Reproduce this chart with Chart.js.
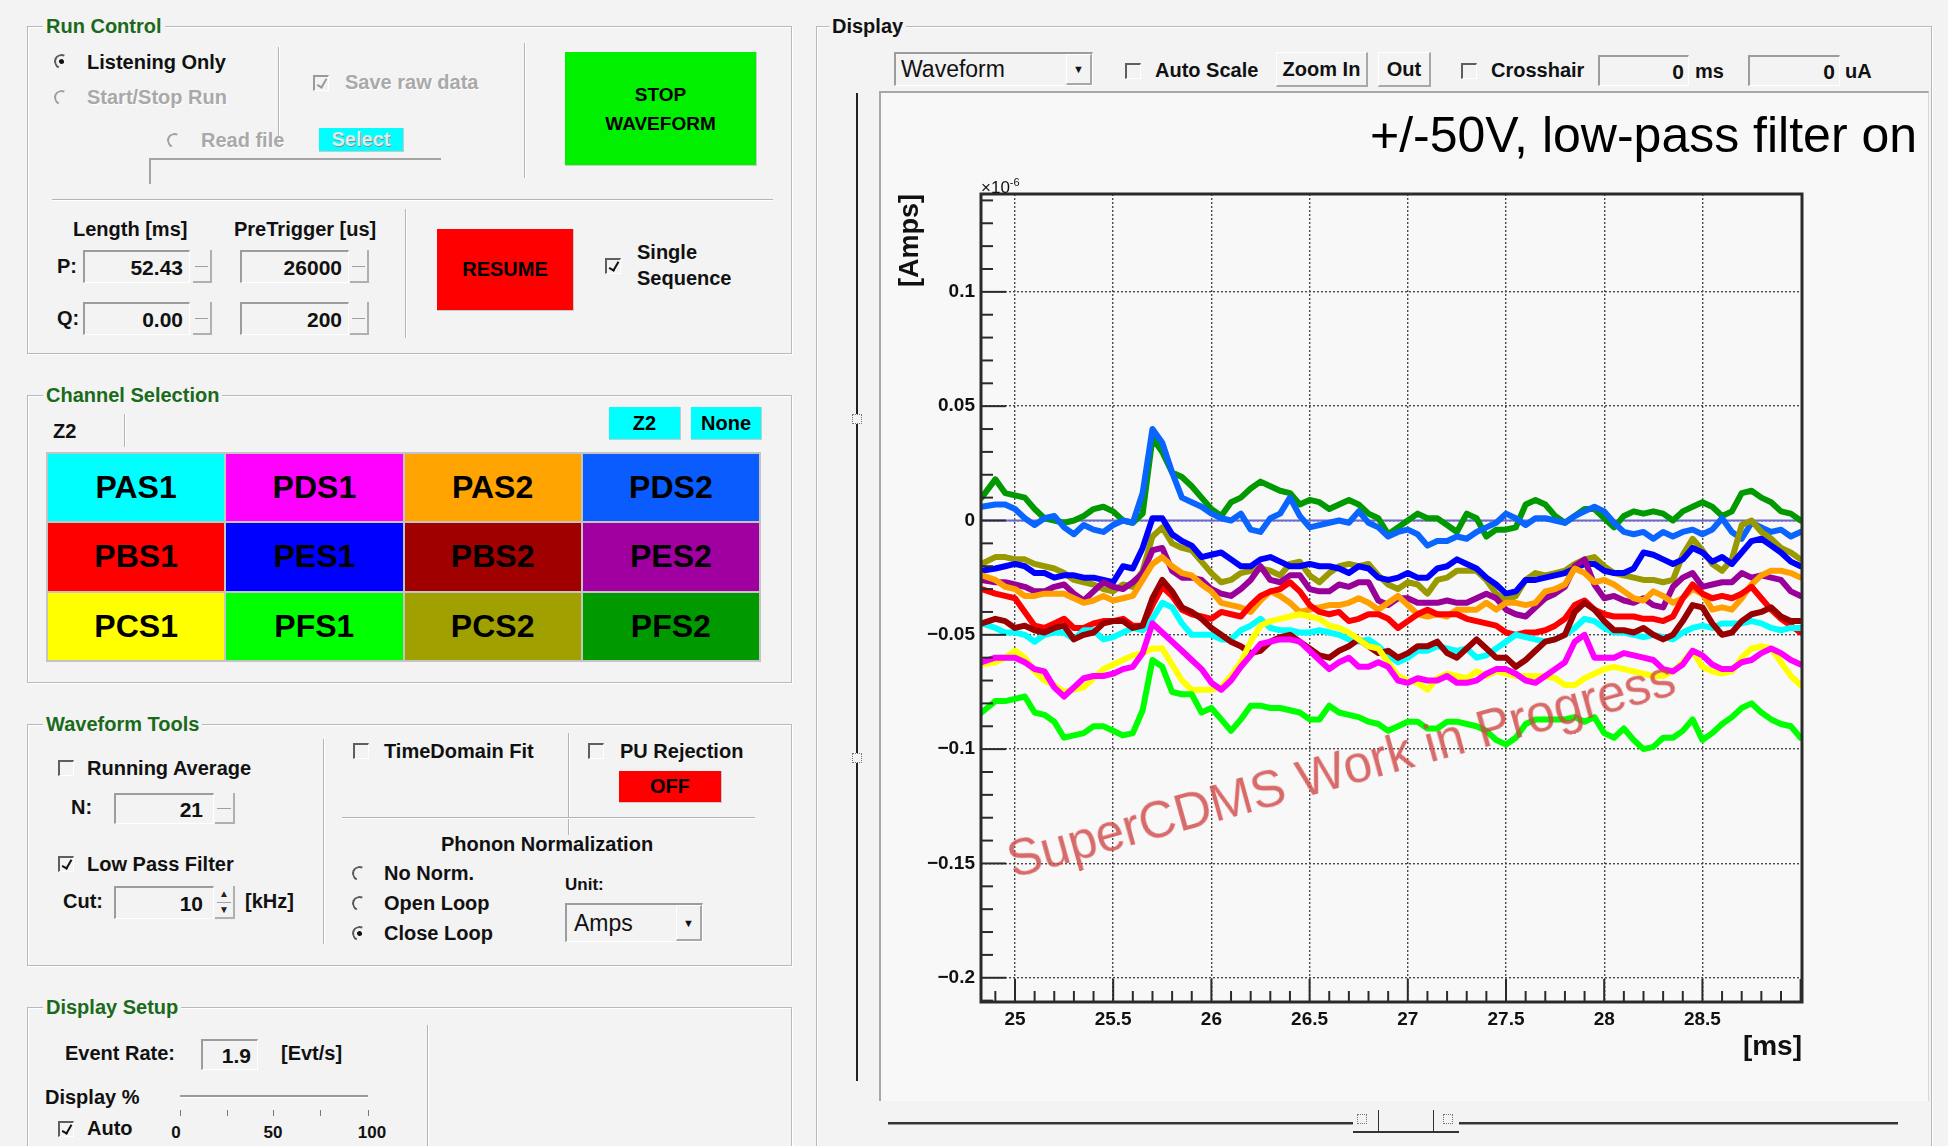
<!DOCTYPE html>
<html>
<head>
<meta charset="utf-8">
<script src="https://cdn.jsdelivr.net/npm/chart.js@4.4.1/dist/chart.umd.min.js"></script>
<style>
  html, body { margin:0; padding:0; }
  body { width:1948px; height:1146px; background:#f3f3f3; position:relative; overflow:hidden;
         font-family:"Liberation Sans", Arial, sans-serif; }
  .a { position:absolute; }
  .t { position:absolute; white-space:nowrap; font-weight:bold; font-size:20px; line-height:20px; color:#111; }
  .gray { color:#a9a9a9; text-shadow:1px 1px 0 #fff; }
  .grp { position:absolute; border:1px solid #b9b9b9; box-shadow: inset 1px 1px 0 #fff, 1px 1px 0 #fff; }
  .gt { position:absolute; white-space:nowrap; font-weight:bold; font-size:20px; line-height:20px;
        color:#1b6a1b; background:#f3f3f3; padding:0 3px; }
  .vs { position:absolute; width:1px; background:#b4b4b4; box-shadow:1px 0 0 #fff; }
  .hs { position:absolute; height:1px; background:#b4b4b4; box-shadow:0 1px 0 #fff; }
  .cb { position:absolute; width:13px; height:13px; border-top:2px solid #5e5e5e; border-left:2px solid #5e5e5e;
        border-right:1px solid #fff; border-bottom:1px solid #fff; }
  .cb.on::after { content:''; position:absolute; left:4px; top:0px; width:4px; height:9px;
        border:solid #111; border-width:0 2px 2px 0; transform:rotate(30deg); }
  .cb.dis { border-color:#9a9a9a #fff #fff #9a9a9a; }
  .cb.dis::after { border-color:#9a9a9a; }
  .rd { position:absolute; width:11px; height:11px; border-radius:50%; border:2px solid;
        border-color:#5a5a5a transparent transparent #5a5a5a; transform:rotate(-20deg); }
  .rd.dis { border-color:#a0a0a0 transparent transparent #a0a0a0; }
  .rd.on::after { content:''; position:absolute; left:3px; top:3px; width:5px; height:5px; border-radius:50%; background:#111; }
  .en { position:absolute; box-sizing:border-box; border-top:2px solid #9c9c9c; border-left:2px solid #9c9c9c;
        border-right:1px solid #fff; border-bottom:1px solid #fff; text-align:right; font-weight:bold;
        font-size:21px; color:#111; }
  .sp { position:absolute; box-sizing:border-box; border-right:2px solid #b0b0b0; border-bottom:2px solid #b0b0b0; }
  .sp::after { content:''; position:absolute; left:2px; right:2px; top:50%; height:1px; background:#a0a0a0; }
  .btn { position:absolute; box-sizing:border-box; display:flex; align-items:center; justify-content:center;
         font-weight:bold; color:#000; border-right:1px solid #c9c9c9; border-bottom:1px solid #c9c9c9; }
  .raised { position:absolute; box-sizing:border-box; border-top:1px solid #fff; border-left:1px solid #fff;
         border-right:2px solid #a8a8a8; border-bottom:2px solid #a8a8a8; display:flex; align-items:center;
         justify-content:center; font-weight:bold; font-size:20px; color:#111; }
  .grid { position:absolute; display:grid; grid-template-columns:repeat(4,1fr); grid-template-rows:repeat(3,1fr);
          gap:2px; background:#c4c4c4; padding:2px; box-sizing:border-box; }
  .grid div { display:flex; align-items:center; justify-content:center; font-weight:bold; font-size:32px; color:#000; }
  .handle { position:absolute; width:8px; height:8px; border:1px dotted #777; }
</style>
</head>
<body>

<!-- Run Control -->
<div class="grp" style="left:27px;top:26px;width:763px;height:326px"></div>
<div class="gt" style="left:43px;top:16px">Run Control</div>
<div class="rd on" style="left:54px;top:54px"></div>
<div class="t" style="left:87px;top:52px">Listening Only</div>
<div class="rd dis" style="left:54px;top:90px"></div>
<div class="t gray" style="left:87px;top:87px">Start/Stop Run</div>
<div class="vs" style="left:278px;top:47px;height:100px"></div>
<div class="cb on dis" style="left:313px;top:75px"></div>
<div class="t gray" style="left:345px;top:72px">Save raw data</div>
<div class="vs" style="left:524px;top:43px;height:135px"></div>
<div class="btn" style="left:565px;top:52px;width:192px;height:114px;background:#00f000;font-size:19px;line-height:29px;flex-direction:column">
  <span>STOP</span><span>WAVEFORM</span></div>
<div class="rd dis" style="left:167px;top:133px"></div>
<div class="t gray" style="left:201px;top:130px">Read file</div>
<div class="btn" style="left:319px;top:128px;width:85px;height:24px;background:#00ffff;font-size:20px;color:#d8eeee;text-shadow:1px 1px 0 #7f9090">Select</div>
<div class="a" style="left:149px;top:158px;width:292px;height:2px;background:#a4a4a4"></div>
<div class="a" style="left:149px;top:158px;width:2px;height:26px;background:#a4a4a4"></div>
<div class="hs" style="left:52px;top:199px;width:721px"></div>
<div class="t" style="left:73px;top:219px">Length [ms]</div>
<div class="t" style="left:234px;top:219px">PreTrigger [us]</div>
<div class="t" style="left:57px;top:256px">P:</div>
<div class="en" style="left:83px;top:250px;width:107px;height:33px;line-height:31px;padding-right:6px">52.43</div>
<div class="sp" style="left:193px;top:250px;width:19px;height:33px"></div>
<div class="en" style="left:240px;top:250px;width:109px;height:33px;line-height:31px;padding-right:6px">26000</div>
<div class="sp" style="left:350px;top:250px;width:19px;height:33px"></div>
<div class="t" style="left:57px;top:308px">Q:</div>
<div class="en" style="left:83px;top:302px;width:107px;height:33px;line-height:31px;padding-right:6px">0.00</div>
<div class="sp" style="left:193px;top:302px;width:19px;height:33px"></div>
<div class="en" style="left:240px;top:302px;width:109px;height:33px;line-height:31px;padding-right:6px">200</div>
<div class="sp" style="left:350px;top:302px;width:19px;height:33px"></div>
<div class="vs" style="left:405px;top:209px;height:129px"></div>
<div class="btn" style="left:437px;top:229px;width:137px;height:82px;background:#ff0000;font-size:20px">RESUME</div>
<div class="cb on" style="left:605px;top:258px"></div>
<div class="t" style="left:637px;top:242px">Single</div>
<div class="t" style="left:637px;top:268px">Sequence</div>

<!-- Channel Selection -->
<div class="grp" style="left:27px;top:395px;width:763px;height:286px"></div>
<div class="gt" style="left:43px;top:385px">Channel Selection</div>
<div class="t" style="left:53px;top:421px">Z2</div>
<div class="vs" style="left:124px;top:414px;height:33px"></div>
<div class="btn" style="left:609px;top:407px;width:72px;height:33px;background:#00ffff;font-size:20px">Z2</div>
<div class="btn" style="left:691px;top:407px;width:71px;height:33px;background:#00ffff;font-size:20px">None</div>
<div class="grid" style="left:46px;top:452px;width:715px;height:210px">
  <div style="background:#00ffff">PAS1</div><div style="background:#ff00ff">PDS1</div>
  <div style="background:#ffa400">PAS2</div><div style="background:#0a5cff">PDS2</div>
  <div style="background:#ff0000">PBS1</div><div style="background:#0000ff">PES1</div>
  <div style="background:#a00000">PBS2</div><div style="background:#a000a0">PES2</div>
  <div style="background:#ffff00">PCS1</div><div style="background:#00ff00">PFS1</div>
  <div style="background:#a0a000">PCS2</div><div style="background:#009a00">PFS2</div>
</div>

<!-- Waveform Tools -->
<div class="grp" style="left:27px;top:724px;width:763px;height:240px"></div>
<div class="gt" style="left:43px;top:714px">Waveform Tools</div>
<div class="cb" style="left:58px;top:760px"></div>
<div class="t" style="left:87px;top:758px">Running Average</div>
<div class="t" style="left:71px;top:797px">N:</div>
<div class="en" style="left:114px;top:793px;width:100px;height:31px;line-height:29px;padding-right:10px">21</div>
<div class="sp" style="left:215px;top:793px;width:20px;height:31px"></div>
<div class="cb on" style="left:58px;top:856px"></div>
<div class="t" style="left:87px;top:854px">Low Pass Filter</div>
<div class="t" style="left:63px;top:891px">Cut:</div>
<div class="en" style="left:114px;top:886px;width:100px;height:33px;line-height:31px;padding-right:10px">10</div>
<div class="sp" style="left:215px;top:886px;width:20px;height:33px"></div>
<div class="a" style="left:219px;top:889px;font-size:10px;line-height:10px;color:#222">&#9650;</div>
<div class="a" style="left:219px;top:905px;font-size:10px;line-height:10px;color:#222">&#9660;</div>
<div class="t" style="left:245px;top:891px">[kHz]</div>
<div class="vs" style="left:323px;top:739px;height:205px"></div>
<div class="cb" style="left:353px;top:743px"></div>
<div class="t" style="left:384px;top:741px">TimeDomain Fit</div>
<div class="vs" style="left:568px;top:733px;height:102px"></div>
<div class="cb" style="left:588px;top:743px"></div>
<div class="t" style="left:620px;top:741px">PU Rejection</div>
<div class="btn" style="left:619px;top:771px;width:103px;height:32px;background:#ff0000;font-size:20px">OFF</div>
<div class="hs" style="left:342px;top:817px;width:413px"></div>
<div class="t" style="left:437px;top:834px;width:220px;text-align:center">Phonon Normalization</div>
<div class="rd" style="left:352px;top:866px"></div>
<div class="t" style="left:384px;top:863px">No Norm.</div>
<div class="rd" style="left:352px;top:896px"></div>
<div class="t" style="left:384px;top:893px">Open Loop</div>
<div class="rd on" style="left:352px;top:926px"></div>
<div class="t" style="left:384px;top:923px">Close Loop</div>
<div class="t" style="left:565px;top:875px;font-size:17px">Unit:</div>
<div class="en" style="left:565px;top:903px;width:138px;height:39px"></div>
<div class="t" style="left:574px;top:912px;font-size:23px;line-height:23px;font-weight:normal">Amps</div>
<div class="raised" style="left:676px;top:905px;width:26px;height:36px;font-size:11px">&#9660;</div>

<!-- Display Setup -->
<div class="grp" style="left:27px;top:1007px;width:763px;height:200px"></div>
<div class="gt" style="left:43px;top:997px">Display Setup</div>
<div class="t" style="left:65px;top:1043px">Event Rate:</div>
<div class="en" style="left:201px;top:1039px;width:57px;height:31px;line-height:29px;padding-right:6px">1.9</div>
<div class="t" style="left:281px;top:1043px">[Evt/s]</div>
<div class="vs" style="left:427px;top:1025px;height:130px"></div>
<div class="t" style="left:45px;top:1087px">Display %</div>
<div class="a" style="left:180px;top:1095px;width:188px;height:2px;background:#9a9a9a;border-bottom:1px solid #fff"></div>
<div class="cb on" style="left:58px;top:1121px"></div>
<div class="t" style="left:87px;top:1118px">Auto</div>
<div class="a" style="left:180px;top:1110px;width:1px;height:6px;background:#777"></div>
<div class="a" style="left:227px;top:1110px;width:1px;height:6px;background:#777"></div>
<div class="a" style="left:273px;top:1110px;width:1px;height:6px;background:#777"></div>
<div class="a" style="left:320px;top:1110px;width:1px;height:6px;background:#777"></div>
<div class="a" style="left:368px;top:1110px;width:1px;height:6px;background:#777"></div>
<div class="t" style="left:156px;top:1123px;width:40px;text-align:center;font-size:17px">0</div>
<div class="t" style="left:253px;top:1123px;width:40px;text-align:center;font-size:17px">50</div>
<div class="t" style="left:352px;top:1123px;width:40px;text-align:center;font-size:17px">100</div>

<!-- Display -->
<div class="grp" style="left:816px;top:26px;width:1114px;height:1200px"></div>
<div class="gt" style="left:829px;top:16px;color:#111">Display</div>
<div class="en" style="left:894px;top:52px;width:199px;height:34px"></div>
<div class="t" style="left:901px;top:58px;font-size:23px;line-height:23px;font-weight:normal">Waveform</div>
<div class="raised" style="left:1066px;top:54px;width:26px;height:31px;font-size:11px">&#9660;</div>
<div class="cb" style="left:1125px;top:63px"></div>
<div class="t" style="left:1155px;top:60px">Auto Scale</div>
<div class="raised" style="left:1276px;top:52px;width:92px;height:35px">Zoom In</div>
<div class="raised" style="left:1378px;top:52px;width:53px;height:35px">Out</div>
<div class="cb" style="left:1461px;top:63px"></div>
<div class="t" style="left:1491px;top:60px">Crosshair</div>
<div class="en" style="left:1598px;top:55px;width:91px;height:31px;line-height:29px;padding-right:4px">0</div>
<div class="t" style="left:1695px;top:61px">ms</div>
<div class="en" style="left:1748px;top:55px;width:92px;height:31px;line-height:29px;padding-right:4px">0</div>
<div class="t" style="left:1845px;top:61px">uA</div>

<div class="a" style="left:879px;top:91px;width:1050px;height:1010px;box-sizing:border-box;border-top:2px solid #a8a8a8;border-left:2px solid #a8a8a8;border-right:1px solid #d8d8d8;background:#f8f8f8"></div>
<canvas id="wave" class="a" style="left:881px;top:93px" width="1048" height="1007"></canvas>

<!-- overlay text on the plot pad -->
<div class="a" style="left:1370px;top:110px;font-size:50px;line-height:50px;color:#000;white-space:nowrap">+/-50V, low-pass filter on</div>
<div class="a" style="left:981px;top:174px;font-size:17px;line-height:17px;color:#111;white-space:nowrap">&#215;10<sup style="font-size:11px">-6</sup></div>
<div class="a" style="left:1341px;top:769px;transform:translate(-50%,-50%) rotate(-15.5deg);font-size:51px;line-height:51px;color:rgba(208,70,70,0.8);white-space:nowrap;pointer-events:none">SuperCDMS Work in Progress</div>

<!-- pad sliders -->
<div class="a" style="left:856px;top:93px;width:2px;height:988px;background:#222"></div>
<div class="handle" style="left:852px;top:414px;background:#f3f3f3"></div>
<div class="handle" style="left:852px;top:753px;background:#f3f3f3"></div>
<div class="a" style="left:888px;top:1122px;width:1010px;height:2px;background:#333;border-bottom:1px solid #999"></div>
<div class="a" style="left:1353px;top:1110px;width:106px;height:21px;background:#f3f3f3;border-bottom:2px solid #333"></div>
<div class="a" style="left:1378px;top:1110px;width:1px;height:21px;background:#333"></div>
<div class="a" style="left:1433px;top:1110px;width:1px;height:21px;background:#333"></div>
<div class="handle" style="left:1357px;top:1114px"></div>
<div class="handle" style="left:1443px;top:1114px"></div>

<script>
// Sample times [ms]
const timeMs = [
  24.83, 24.90, 24.95, 25.00, 25.05, 25.10, 25.15, 25.20, 25.25, 25.30, 25.35, 25.40, 25.45, 25.50, 25.55, 25.60, 25.65, 25.70, 25.75, 25.80, 25.85, 25.90, 25.95, 26.00, 26.05, 26.10, 26.15, 26.20,
  26.25, 26.30, 26.35, 26.40, 26.45, 26.50, 26.55, 26.60, 26.65, 26.70, 26.75, 26.80, 26.85, 26.90, 26.95, 27.00, 27.05, 27.10, 27.15, 27.20, 27.25, 27.30, 27.35, 27.40, 27.45, 27.50, 27.55, 27.60,
  27.65, 27.70, 27.75, 27.80, 27.85, 27.90, 27.95, 28.00, 28.05, 28.10, 28.15, 28.20, 28.25, 28.30, 28.35, 28.40, 28.45, 28.50, 28.55, 28.60, 28.65, 28.70, 28.75, 28.80, 28.85, 28.90, 28.95, 29.00
];

// Channel currents (x1e-6 A)
const PFS2 = [
  0.010, 0.018, 0.012, 0.011, 0.010, 0.005, 0.001, 0.000, -0.001, 0.000, 0.002, 0.005, 0.006, 0.004, 0.000, -0.001, 0.003, 0.036, 0.030, 0.021, 0.019, 0.015, 0.010, 0.005, 0.002, 0.008, 0.010, 0.014,
  0.017, 0.015, 0.013, 0.012, 0.007, 0.009, 0.008, 0.005, 0.007, 0.009, 0.007, 0.003, 0.001, -0.006, -0.003, 0.000, 0.003, 0.001, 0.001, -0.002, -0.005, 0.003, 0.001, -0.007, -0.004, -0.004, -0.003, 0.007,
  0.009, 0.007, 0.002, -0.001, 0.002, 0.005, 0.005, 0.001, -0.003, 0.002, 0.004, 0.003, 0.004, 0.003, 0.000, 0.004, 0.006, 0.008, 0.006, 0.002, 0.004, 0.012, 0.013, 0.010, 0.008, 0.004, 0.003, 0.000
];
const PDS2 = [
  0.006, 0.007, 0.007, 0.005, 0.001, -0.002, 0.001, 0.002, -0.003, -0.006, -0.002, -0.004, -0.005, -0.002, 0.000, -0.001, 0.012, 0.040, 0.034, 0.021, 0.010, 0.008, 0.006, 0.003, 0.001, 0.000, 0.003, -0.004,
  -0.005, 0.001, 0.003, 0.010, 0.002, -0.003, -0.002, -0.001, 0.000, -0.001, 0.004, -0.001, -0.003, -0.007, -0.005, -0.004, -0.006, -0.011, -0.009, -0.009, -0.007, -0.008, -0.005, -0.003, -0.001, 0.003, 0.001, -0.002,
  0.001, 0.001, 0.000, -0.001, 0.002, 0.004, 0.006, 0.004, -0.001, -0.005, -0.006, -0.005, -0.008, -0.005, -0.007, -0.005, -0.004, -0.006, -0.004, 0.001, -0.005, -0.008, -0.001, -0.003, -0.005, -0.004, -0.007, -0.005
];
const PES1 = [
  -0.022, -0.021, -0.020, -0.019, -0.020, -0.023, -0.023, -0.025, -0.024, -0.024, -0.025, -0.025, -0.026, -0.027, -0.020, -0.021, -0.012, 0.001, 0.001, -0.006, -0.009, -0.011, -0.016, -0.015, -0.014, -0.017, -0.020, -0.020,
  -0.017, -0.016, -0.018, -0.020, -0.020, -0.019, -0.020, -0.020, -0.021, -0.023, -0.020, -0.021, -0.025, -0.026, -0.025, -0.023, -0.025, -0.025, -0.021, -0.020, -0.017, -0.019, -0.021, -0.025, -0.028, -0.032, -0.031, -0.026,
  -0.026, -0.025, -0.024, -0.023, -0.021, -0.019, -0.019, -0.022, -0.023, -0.023, -0.021, -0.014, -0.015, -0.017, -0.019, -0.017, -0.012, -0.014, -0.018, -0.016, -0.019, -0.014, -0.009, -0.008, -0.011, -0.014, -0.018, -0.020
];
const PCS2 = [
  -0.019, -0.016, -0.016, -0.017, -0.017, -0.019, -0.020, -0.021, -0.023, -0.026, -0.027, -0.028, -0.030, -0.031, -0.028, -0.029, -0.022, -0.007, -0.003, -0.010, -0.012, -0.013, -0.018, -0.023, -0.027, -0.026, -0.023, -0.022,
  -0.021, -0.022, -0.024, -0.019, -0.018, -0.024, -0.027, -0.023, -0.020, -0.019, -0.020, -0.019, -0.024, -0.028, -0.030, -0.027, -0.028, -0.032, -0.026, -0.025, -0.022, -0.022, -0.022, -0.026, -0.032, -0.035, -0.033, -0.026,
  -0.023, -0.024, -0.023, -0.022, -0.019, -0.017, -0.016, -0.020, -0.023, -0.024, -0.025, -0.026, -0.026, -0.027, -0.026, -0.015, -0.008, -0.013, -0.019, -0.022, -0.017, -0.002, 0.000, -0.005, -0.008, -0.012, -0.014, -0.017
];
const PES2 = [
  -0.026, -0.027, -0.027, -0.028, -0.029, -0.031, -0.031, -0.029, -0.028, -0.032, -0.035, -0.031, -0.027, -0.029, -0.030, -0.027, -0.023, -0.013, -0.012, -0.022, -0.025, -0.025, -0.026, -0.030, -0.032, -0.033, -0.030, -0.026,
  -0.020, -0.026, -0.027, -0.024, -0.024, -0.030, -0.031, -0.031, -0.028, -0.029, -0.027, -0.027, -0.035, -0.037, -0.034, -0.034, -0.036, -0.036, -0.036, -0.035, -0.036, -0.036, -0.034, -0.032, -0.034, -0.039, -0.041, -0.042,
  -0.038, -0.034, -0.032, -0.029, -0.020, -0.017, -0.028, -0.034, -0.033, -0.035, -0.036, -0.034, -0.037, -0.038, -0.029, -0.025, -0.023, -0.029, -0.028, -0.027, -0.027, -0.023, -0.025, -0.024, -0.025, -0.026, -0.031, -0.033
];
const PAS2 = [
  -0.024, -0.026, -0.029, -0.030, -0.033, -0.033, -0.032, -0.032, -0.032, -0.034, -0.036, -0.035, -0.033, -0.035, -0.034, -0.033, -0.026, -0.019, -0.016, -0.020, -0.023, -0.024, -0.028, -0.031, -0.036, -0.037, -0.038, -0.040,
  -0.035, -0.031, -0.033, -0.036, -0.040, -0.039, -0.038, -0.037, -0.037, -0.036, -0.034, -0.036, -0.039, -0.036, -0.033, -0.037, -0.041, -0.042, -0.041, -0.042, -0.039, -0.039, -0.039, -0.036, -0.039, -0.036, -0.036, -0.037,
  -0.036, -0.031, -0.030, -0.028, -0.021, -0.023, -0.027, -0.026, -0.028, -0.031, -0.034, -0.035, -0.031, -0.033, -0.036, -0.034, -0.030, -0.032, -0.039, -0.038, -0.039, -0.034, -0.028, -0.024, -0.022, -0.022, -0.023, -0.025
];
const PBS1 = [
  -0.030, -0.032, -0.033, -0.034, -0.040, -0.046, -0.047, -0.045, -0.043, -0.047, -0.047, -0.045, -0.044, -0.044, -0.043, -0.046, -0.046, -0.037, -0.029, -0.033, -0.039, -0.041, -0.042, -0.043, -0.040, -0.041, -0.042, -0.037,
  -0.033, -0.031, -0.030, -0.027, -0.031, -0.037, -0.040, -0.041, -0.040, -0.044, -0.043, -0.041, -0.041, -0.043, -0.047, -0.044, -0.041, -0.039, -0.041, -0.041, -0.041, -0.043, -0.044, -0.045, -0.046, -0.049, -0.050, -0.049,
  -0.049, -0.048, -0.046, -0.043, -0.037, -0.035, -0.039, -0.041, -0.042, -0.042, -0.042, -0.043, -0.043, -0.044, -0.042, -0.034, -0.028, -0.032, -0.034, -0.033, -0.034, -0.032, -0.029, -0.034, -0.039, -0.043, -0.046, -0.049
];
const PBS2 = [
  -0.045, -0.043, -0.044, -0.047, -0.046, -0.048, -0.049, -0.047, -0.046, -0.052, -0.050, -0.049, -0.045, -0.044, -0.044, -0.047, -0.046, -0.034, -0.026, -0.031, -0.038, -0.040, -0.043, -0.047, -0.050, -0.053, -0.055, -0.058,
  -0.057, -0.053, -0.051, -0.050, -0.053, -0.056, -0.059, -0.060, -0.057, -0.055, -0.052, -0.055, -0.058, -0.057, -0.060, -0.058, -0.055, -0.055, -0.053, -0.058, -0.060, -0.056, -0.052, -0.056, -0.060, -0.060, -0.064, -0.061,
  -0.057, -0.053, -0.052, -0.050, -0.040, -0.036, -0.039, -0.044, -0.048, -0.048, -0.049, -0.047, -0.050, -0.052, -0.050, -0.044, -0.037, -0.038, -0.045, -0.050, -0.049, -0.044, -0.041, -0.040, -0.038, -0.042, -0.044, -0.044
];
const PAS1 = [
  -0.045, -0.047, -0.049, -0.049, -0.050, -0.053, -0.050, -0.049, -0.049, -0.052, -0.048, -0.048, -0.052, -0.051, -0.049, -0.047, -0.048, -0.043, -0.036, -0.038, -0.045, -0.050, -0.050, -0.050, -0.052, -0.052, -0.048, -0.046,
  -0.043, -0.047, -0.048, -0.048, -0.049, -0.049, -0.048, -0.049, -0.050, -0.052, -0.053, -0.052, -0.055, -0.059, -0.062, -0.060, -0.057, -0.057, -0.055, -0.056, -0.057, -0.056, -0.060, -0.059, -0.056, -0.053, -0.050, -0.051,
  -0.052, -0.053, -0.052, -0.050, -0.047, -0.043, -0.044, -0.047, -0.049, -0.049, -0.050, -0.051, -0.050, -0.051, -0.052, -0.049, -0.047, -0.046, -0.047, -0.045, -0.045, -0.045, -0.044, -0.045, -0.047, -0.048, -0.047, -0.047
];
const PDS1 = [
  -0.062, -0.060, -0.060, -0.060, -0.062, -0.065, -0.066, -0.073, -0.077, -0.073, -0.069, -0.068, -0.068, -0.067, -0.065, -0.064, -0.058, -0.045, -0.049, -0.053, -0.057, -0.061, -0.065, -0.071, -0.074, -0.070, -0.064, -0.059,
  -0.054, -0.053, -0.052, -0.052, -0.053, -0.057, -0.061, -0.065, -0.062, -0.060, -0.064, -0.064, -0.062, -0.064, -0.070, -0.071, -0.069, -0.070, -0.070, -0.068, -0.071, -0.071, -0.070, -0.067, -0.065, -0.065, -0.067, -0.070,
  -0.071, -0.068, -0.065, -0.062, -0.053, -0.050, -0.060, -0.060, -0.060, -0.058, -0.059, -0.060, -0.061, -0.065, -0.066, -0.063, -0.057, -0.059, -0.063, -0.065, -0.065, -0.062, -0.061, -0.058, -0.056, -0.058, -0.061, -0.063
];
const PCS1 = [
  -0.063, -0.062, -0.060, -0.057, -0.060, -0.066, -0.070, -0.072, -0.075, -0.074, -0.073, -0.069, -0.065, -0.063, -0.061, -0.059, -0.058, -0.056, -0.056, -0.063, -0.070, -0.074, -0.074, -0.074, -0.073, -0.068, -0.062, -0.053,
  -0.046, -0.044, -0.043, -0.042, -0.041, -0.042, -0.043, -0.046, -0.047, -0.049, -0.052, -0.055, -0.056, -0.062, -0.068, -0.070, -0.071, -0.074, -0.069, -0.067, -0.068, -0.069, -0.066, -0.068, -0.066, -0.067, -0.068, -0.068,
  -0.068, -0.068, -0.069, -0.072, -0.072, -0.069, -0.067, -0.065, -0.064, -0.065, -0.066, -0.067, -0.068, -0.068, -0.066, -0.062, -0.057, -0.064, -0.066, -0.067, -0.066, -0.060, -0.056, -0.055, -0.056, -0.062, -0.068, -0.072
];
const PFS1 = [
  -0.084, -0.079, -0.079, -0.078, -0.077, -0.084, -0.085, -0.088, -0.095, -0.094, -0.093, -0.090, -0.090, -0.092, -0.094, -0.093, -0.083, -0.061, -0.064, -0.075, -0.076, -0.076, -0.084, -0.082, -0.087, -0.092, -0.087, -0.081,
  -0.081, -0.082, -0.082, -0.083, -0.084, -0.087, -0.087, -0.081, -0.084, -0.085, -0.086, -0.088, -0.089, -0.092, -0.090, -0.088, -0.088, -0.091, -0.091, -0.088, -0.088, -0.089, -0.090, -0.092, -0.096, -0.098, -0.095, -0.089,
  -0.087, -0.087, -0.087, -0.087, -0.086, -0.088, -0.086, -0.093, -0.095, -0.091, -0.096, -0.100, -0.099, -0.095, -0.095, -0.092, -0.087, -0.096, -0.093, -0.089, -0.086, -0.082, -0.080, -0.084, -0.087, -0.089, -0.090, -0.095
];

// Axis ticks
const xTickValues = [25, 25.5, 26, 26.5, 27, 27.5, 28, 28.5];
const xTickLabels = ['25', '25.5', '26', '26.5', '27', '27.5', '28', '28.5'];
const yTickValues = [0.1, 0.05, 0, -0.05, -0.1, -0.15, -0.2];
const yTickLabels = ['0.1', '0.05', '0', '\u22120.05', '\u22120.1', '\u22120.15', '\u22120.2'];

const X_MIN = 24.827, X_MAX = 29.007;
const Y_MIN = -0.2106, Y_MAX = 0.1428;

// Traces listed top-most first (Chart.js paints the first dataset last)
const traces = [
  { name: 'PFS1', values: PFS1, color: '#00ff00' },
  { name: 'PDS1', values: PDS1, color: '#ff00ff' },
  { name: 'PCS1', values: PCS1, color: '#ffff00' },
  { name: 'PBS2', values: PBS2, color: '#990000' },
  { name: 'PAS1', values: PAS1, color: '#00ffff' },
  { name: 'PBS1', values: PBS1, color: '#ff0000' },
  { name: 'PAS2', values: PAS2, color: '#ffa000' },
  { name: 'PES2', values: PES2, color: '#990099' },
  { name: 'PES1', values: PES1, color: '#0000ff' },
  { name: 'PCS2', values: PCS2, color: '#999900' },
  { name: 'PDS2', values: PDS2, color: '#0a64ff' },
  { name: 'PFS2', values: PFS2, color: '#009900' }
];

const FONT = '"Liberation Sans", Arial, sans-serif';

const padDecor = {
  id: 'padDecor',
  beforeDatasetsDraw(chart) {
    const { ctx, chartArea: a, scales: { y } } = chart;
    const y0 = y.getPixelForValue(0);
    ctx.save();
    ctx.strokeStyle = '#6a6ad0';
    ctx.lineWidth = 2;
    ctx.beginPath(); ctx.moveTo(a.left, y0); ctx.lineTo(a.right, y0); ctx.stroke();
    ctx.restore();
  },
  afterDatasetsDraw(chart) {
    const { ctx, chartArea: a, scales: { x, y } } = chart;
    ctx.save();
    ctx.strokeStyle = '#2a2a2a';
    ctx.lineWidth = 2;
    // y ticks every 0.01, major every 0.05, drawn inward from the left axis
    for (let k = -21; k <= 14; k++) {
      const py = y.getPixelForValue(k / 100);
      if (py < a.top || py > a.bottom) continue;
      const len = (k % 5 === 0) ? 25 : 12;
      ctx.beginPath(); ctx.moveTo(a.left, py); ctx.lineTo(a.left + len, py); ctx.stroke();
    }
    // x ticks every 0.1 ms, major every 0.5 ms, drawn upward from the bottom axis
    for (let k = 249; k <= 290; k++) {
      const px = x.getPixelForValue(k / 10);
      if (px < a.left || px > a.right) continue;
      const len = (k % 5 === 0) ? 23 : 11;
      ctx.beginPath(); ctx.moveTo(px, a.bottom); ctx.lineTo(px, a.bottom - len); ctx.stroke();
    }
    ctx.lineWidth = 3;
    ctx.strokeRect(a.left, a.top, a.right - a.left, a.bottom - a.top);
    ctx.restore();
  }
};

new Chart(document.getElementById('wave'), {
  type: 'line',
  data: {
    datasets: traces.map(tr => ({
      label: tr.name,
      data: timeMs.map((t, i) => ({ x: t, y: tr.values[i] })),
      borderColor: tr.color,
      borderWidth: 6,
      pointRadius: 0,
      tension: 0,
      borderJoinStyle: 'round',
      borderCapStyle: 'round',
      fill: false
    }))
  },
  options: {
    responsive: false,
    animation: false,
    devicePixelRatio: 1,
    layout: { padding: { left: 0, right: 127, top: 101, bottom: 0 } },
    plugins: { legend: { display: false }, tooltip: { enabled: false } },
    scales: {
      x: {
        type: 'linear', min: X_MIN, max: X_MAX,
        afterBuildTicks: s => { s.ticks = xTickValues.map(v => ({ value: v })); },
        afterFit: s => { s.height = 98; },
        grid: { color: '#4a4a4a', lineWidth: 1.4, drawTicks: false },
        border: { display: false, dash: [2, 2] },
        ticks: {
          autoSkip: false, maxRotation: 0, padding: 6, color: '#111',
          font: { family: FONT, size: 19, weight: 'bold' },
          callback: v => xTickLabels[xTickValues.indexOf(v)]
        },
        title: { display: true, text: '[ms]', align: 'end', color: '#111',
                 font: { family: FONT, size: 28, weight: 'bold' }, padding: { top: 0, bottom: 36 } }
      },
      y: {
        type: 'linear', min: Y_MIN, max: Y_MAX,
        afterBuildTicks: s => { s.ticks = yTickValues.map(v => ({ value: v })); },
        afterFit: s => { s.width = 100; },
        grid: { color: '#4a4a4a', lineWidth: 1.4, drawTicks: false },
        border: { display: false, dash: [2, 2] },
        ticks: {
          autoSkip: false, padding: 6, color: '#111',
          font: { family: FONT, size: 19, weight: 'bold' },
          callback: v => yTickLabels[yTickValues.indexOf(v)]
        },
        title: { display: true, text: '[Amps]', align: 'end', color: '#111',
                 font: { family: FONT, size: 27, weight: 'bold' }, padding: { top: 13, bottom: 0 } }
      }
    }
  },
  plugins: [padDecor]
});
</script>
</body>
</html>
